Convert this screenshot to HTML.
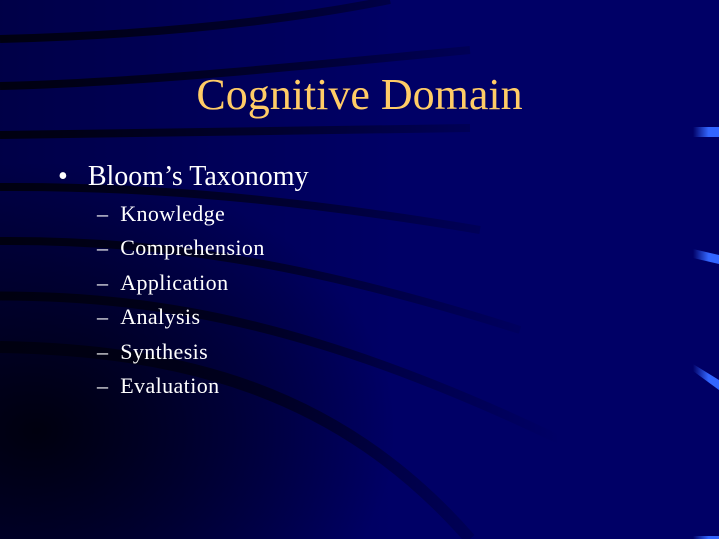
<!DOCTYPE html>
<html><head><meta charset="utf-8"><style>
html,body{margin:0;padding:0}
body{width:719px;height:539px;overflow:hidden;position:relative;background:#000066;font-family:"Liberation Serif",serif}
svg{position:absolute;left:0;top:0}
.t{position:absolute;left:0;width:719px;text-align:center;top:70px;font-size:44px;color:#ffcc66;line-height:50px}
.b{position:absolute;color:#fff;white-space:nowrap}
</style></head><body>
<svg width="719" height="539">
<defs>
<linearGradient id="bg" x1="0" x2="1" y1="0" y2="0"><stop offset="0" stop-color="#00003a" stop-opacity="0.7"/><stop offset="0.55" stop-color="#00003a" stop-opacity="0"/></linearGradient>
<linearGradient id="f" gradientUnits="userSpaceOnUse" x1="0" x2="560" y1="0" y2="0"><stop offset="0" stop-color="#000010" stop-opacity="1"/><stop offset="0.5" stop-color="#000010" stop-opacity="0.6"/><stop offset="1" stop-color="#000010" stop-opacity="0"/></linearGradient>
<radialGradient id="r" cx="0.05" cy="0.8" r="0.5"><stop offset="0" stop-color="#000008" stop-opacity="0.9"/><stop offset="1" stop-color="#000008" stop-opacity="0"/></radialGradient>
<linearGradient id="m" x1="0" x2="1" y1="0" y2="0"><stop offset="0" stop-color="#000066"/><stop offset="0.6" stop-color="#3366ff"/><stop offset="1" stop-color="#3366ff"/></linearGradient>
</defs>
<rect width="719" height="539" fill="url(#bg)"/>
<rect width="719" height="539" fill="url(#r)"/>
<g fill="none" stroke="url(#f)">
<path d="M0 39 C150 35 280 22 390 0" stroke-width="8"/>
<path d="M0 86 C150 82 300 66 470 50" stroke-width="8"/>
<path d="M0 135 C150 133 300 132 470 128" stroke-width="8"/>
<path d="M0 187 C150 186 300 200 480 230" stroke-width="8"/>
<path d="M0 241 C150 240 300 260 520 330" stroke-width="8"/>
<path d="M0 296 C170 296 330 330 560 440" stroke-width="9"/>
<path d="M0 347 C180 350 340 390 470 539" stroke-width="12"/>
</g>
<path d="M693 127h26v10h-26z" fill="url(#m)"/>
<path d="M693 249l26 6v9l-26-6z" fill="url(#m)"/>
<path d="M693 364l26 16v10l-26-19z" fill="url(#m)"/>
<path d="M693 536h26v3h-26z" fill="url(#m)"/>
</svg>
<div class="t">Cognitive Domain</div>
<div class="b" style="left:58px;top:160px;font-size:28px;line-height:34px">•<span style="display:inline-block;width:20px"></span>Bloom’s Taxonomy</div>
<div class="b" style="left:97px;top:197px;font-size:22px;line-height:34.4px;letter-spacing:0.4px">– &nbsp;Knowledge<br>– &nbsp;Comprehension<br>– &nbsp;Application<br>– &nbsp;Analysis<br>– &nbsp;Synthesis<br>– &nbsp;Evaluation</div>
</body></html>
